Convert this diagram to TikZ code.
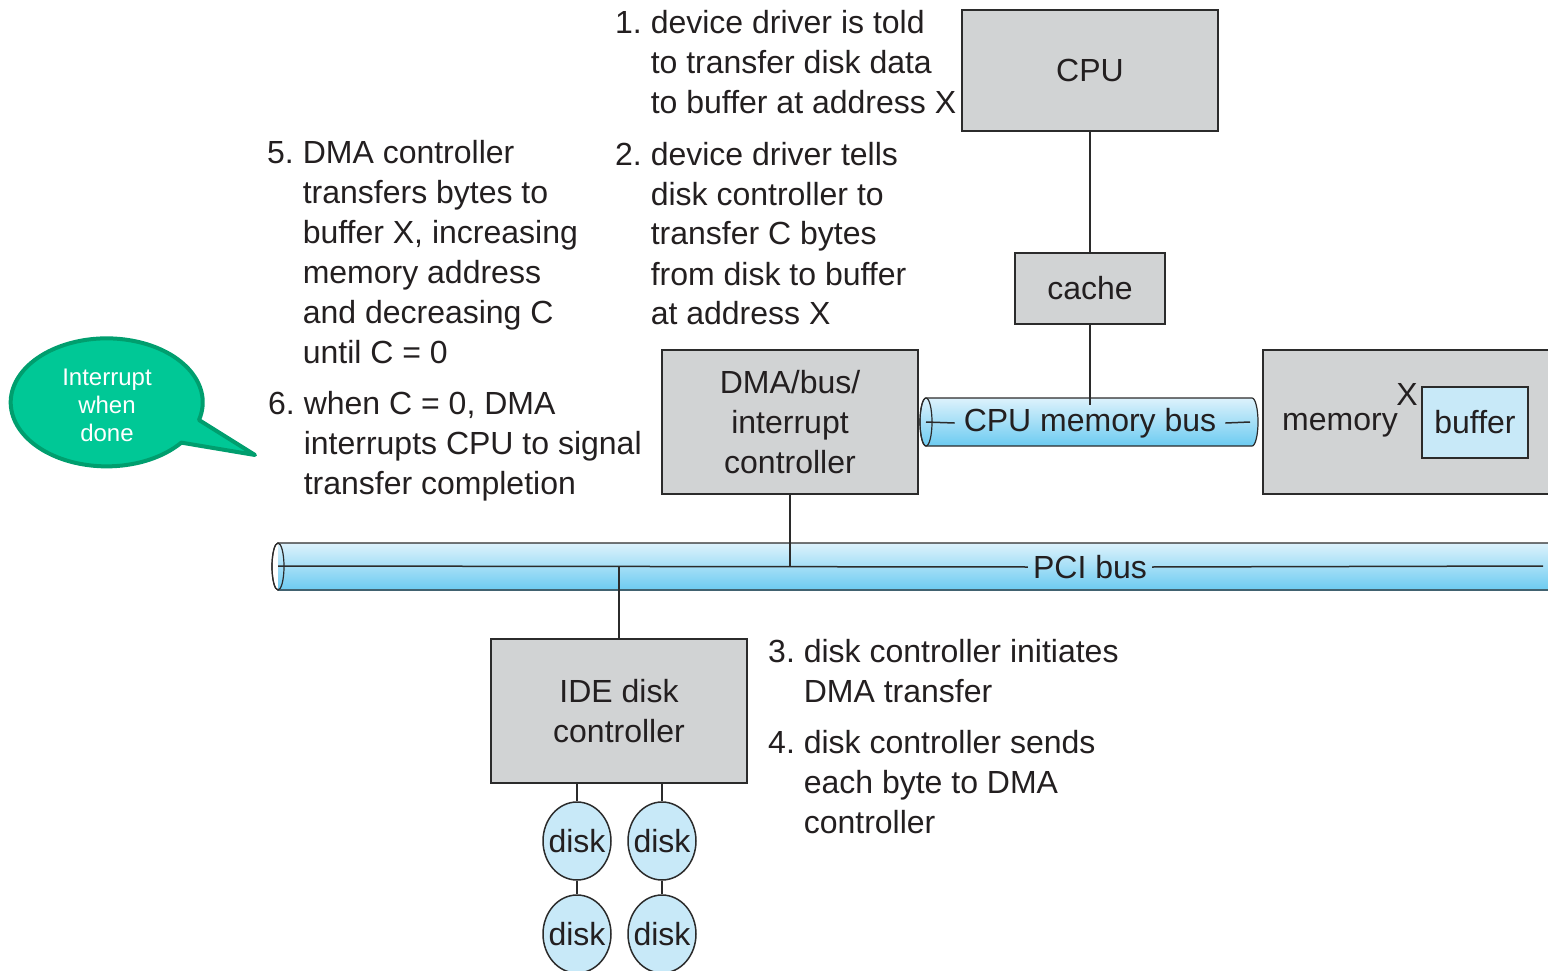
\documentclass[tikz,border=0pt]{standalone}
\usepackage{fontspec}
\setmainfont{Liberation Sans}
\usetikzlibrary{shapes.geometric,positioning}
\definecolor{boxgray}{HTML}{D1D3D4}
\definecolor{diskblue}{HTML}{C8E9F8}
\definecolor{bustop}{HTML}{DDF2FC}
\definecolor{busbot}{HTML}{6CCBF1}
\definecolor{bubblefill}{HTML}{00C896}
\definecolor{bubbleedge}{HTML}{009E6E}
\definecolor{edge}{HTML}{2B2B2B}
\definecolor{ink}{HTML}{231F20}

\begin{document}
\begin{tikzpicture}[x=1pt, y=-1pt]
	\tikzstyle{every node} = [font = \fontsize{32}{40}\selectfont, text = ink, inner sep = 0pt]
	\tikzstyle{box} = [rectangle, draw = edge, fill = boxgray, line width = 1.5pt, align = center]
	\tikzstyle{disk} = [ellipse, draw = edge, fill = diskblue, line width = 1.5pt, inner xsep = -5pt, minimum width = 68, minimum height = 78]
	\tikzstyle{wire} = [draw = edge, line width = 1.5pt]
	\tikzstyle{steps} = [anchor = base west]
	\tikzstyle{bus} = [top color = bustop, bottom color = busbot, draw = edge, line width = 1.2pt]
\clip (0, 0) rectangle (1548, 971);
\node[box, minimum width = 256, minimum height = 121] (cpu) at (1090, 70.5) {CPU};
\node[box, minimum width = 150, minimum height = 71] (cache) at (1090, 288.5) {cache};
\node[box, minimum width = 256, minimum height = 144] (dma) at (790, 422) {DMA/bus/\\interrupt\\controller};
\node[box, minimum width = 300, minimum height = 144, anchor = west] (mem) at (1262, 422) {};
\node (memlabel) at (1340, 425) {memory};
\node (addr) at (1407, 394) {X};
\node[box, fill = diskblue, minimum width = 106, minimum height = 71] (buffer) at (1475, 422.5) {buffer};
\node[box, minimum width = 256, minimum height = 144] (ide) at (619, 711) {IDE disk\\controller};
\node[disk] (d1) at (577, 841) {disk};
\node[disk] (d2) at (662, 841) {disk};
\node[disk] (d3) at (577, 934) {disk};
\node[disk] (d4) at (662, 934) {disk};
% CPU memory bus
	\shade[bus] (926, 398) -- (1252, 398) arc[start angle = -90, end angle = 90, x radius = 6, y radius = 24]
		-- (926, 446) arc[start angle = 90, end angle = 270, x radius = 6, y radius = 24] -- cycle;
	\draw[edge, line width = 1.2pt] (926, 422) ellipse [x radius = 6, y radius = 24];
\coordinate (mbl) at (926, 422);
\coordinate (mbr) at (1250, 422);
\coordinate (mbtop) at (1090, 405);
\node[inner xsep = 9pt] (membus) at (1090, 423) {CPU memory bus};
% PCI bus
	\shade[bus, draw = none] (278, 543) rectangle (1548, 590);
	\draw[edge, line width = 1.2pt] (1548, 543) -- (278, 543) arc[start angle = -90, end angle = -270, x radius = 6, y radius = 23.5] -- (1548, 590);
	\draw[edge, line width = 1.2pt] (278, 566.5) ellipse [x radius = 6, y radius = 23.5];
\coordinate (pcil) at (278, 566);
\coordinate (pcir) at (1543, 566);
\node[inner xsep = 5pt] (pci) at (1090, 567) {PCI bus};
	\path[wire] (mbl) -- (membus.west);
	\path[wire] (membus.east) -- (mbr);
	\path[wire] (pcil) -- (pci.west);
	\path[wire] (pci.east) -- (pcir);
	\path[wire] (cpu) -- (cache);
	\path[wire] (cache.south) -- (mbtop);
	\path[wire] (dma.south) -- (dma.south |- pcil);
	\path[wire] (ide.north) -- (ide.north |- pcil);
	\path[wire] (d1 |- ide.south) -- (d1);
	\path[wire] (d2 |- ide.south) -- (d2);
	\path[wire] (d1) -- (d3);
	\path[wire] (d2) -- (d4);
% interrupt bubble
	\draw[fill = bubblefill, draw = bubbleedge, line width = 4pt, line join = round]
		(199, 420) arc[start angle = 16, end angle = -321, x radius = 96, y radius = 64] -- (255, 455) -- cycle;
\node[font = \fontsize{24}{28}\selectfont, text = white, align = center] (irq) at (107, 405) {Interrupt\\when\\done};
% numbered steps
\node[steps] (s1) at (615, 34) {\begin{tabular}[t]{@{}l@{\ }l@{}}1. & device driver is told\\ & to transfer disk data\\ & to buffer at address X\end{tabular}};
\node[steps] (s2) at (615, 165) {\begin{tabular}[t]{@{}l@{\ }l@{}}2. & device driver tells\\ & disk controller to\\ & transfer C bytes\\ & from disk to buffer\\ & at address X\end{tabular}};
\node[steps] (s5) at (267, 164) {\begin{tabular}[t]{@{}l@{\ }l@{}}5. & DMA controller\\ & transfers bytes to\\ & buffer X, increasing\\ & memory address\\ & and decreasing C\\ & until C = 0\end{tabular}};
\node[steps] (s6) at (268, 414) {\begin{tabular}[t]{@{}l@{\ }l@{}}6. & when C = 0, DMA\\ & interrupts CPU to signal\\ & transfer completion\end{tabular}};
\node[steps] (s3) at (768, 662) {\begin{tabular}[t]{@{}l@{\ }l@{}}3. & disk controller initiates\\ & DMA transfer\end{tabular}};
\node[steps] (s4) at (768, 753) {\begin{tabular}[t]{@{}l@{\ }l@{}}4. & disk controller sends\\ & each byte to DMA\\ & controller\end{tabular}};
	\end{tikzpicture}
\end{document}
